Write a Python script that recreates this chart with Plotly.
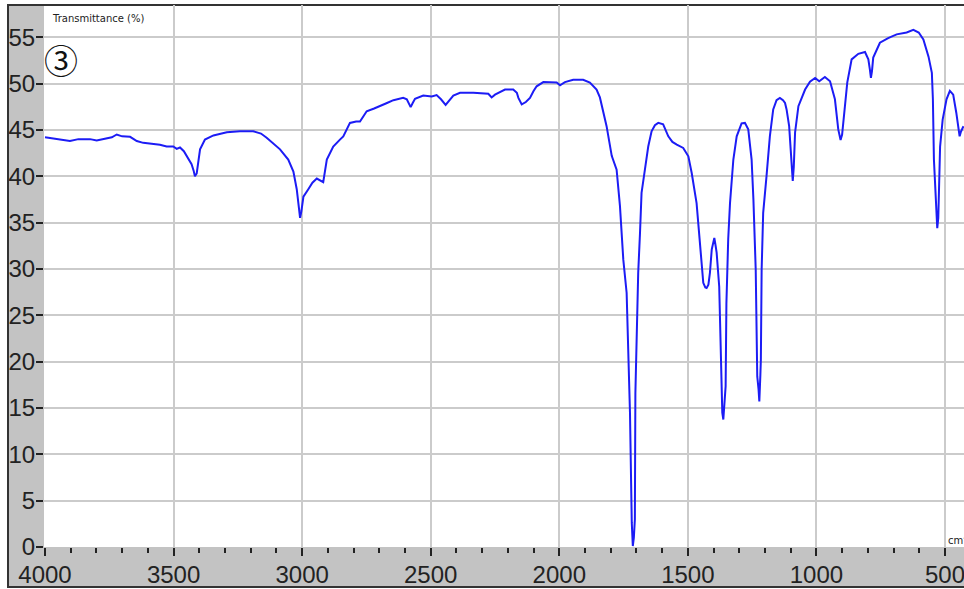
import plotly.graph_objects as go

# IR spectrum data (wavenumber cm-1, transmittance %)
wavenumber = [4000, 3970, 3942, 3915, 3903, 3870, 3825, 3799, 3760, 3740, 3721, 3700, 3669, 3643, 3618,
              3590, 3553, 3527, 3501, 3488, 3475, 3460, 3449, 3430, 3422, 3417, 3410, 3404, 3397, 3378,
              3345, 3293, 3242, 3190, 3160, 3138, 3110, 3086, 3054, 3034, 3021, 3012, 3008, 3003, 2995,
              2976, 2960, 2943, 2930, 2918, 2904, 2879, 2853, 2840, 2814, 2790, 2775, 2749, 2720, 2697,
              2670, 2645, 2607, 2593, 2585, 2578, 2570, 2561, 2529, 2496, 2477, 2460, 2442, 2430, 2412,
              2386, 2334, 2276, 2263, 2250, 2237, 2211, 2179, 2165, 2159, 2146, 2130, 2114, 2100, 2088,
              2062, 2010, 1997, 1978, 1946, 1907, 1881, 1855, 1842, 1816, 1796, 1777, 1764, 1751, 1738,
              1732, 1725, 1718, 1714, 1710, 1706, 1704, 1693, 1686, 1680, 1667, 1654, 1641, 1628, 1615,
              1596, 1576, 1560, 1543, 1518, 1498, 1485, 1466, 1453, 1446, 1440, 1432, 1427, 1420, 1414,
              1407, 1400, 1397, 1392, 1388, 1378, 1372, 1366, 1362, 1358, 1353, 1350, 1343, 1336, 1323,
              1310, 1291, 1278, 1265, 1252, 1245, 1236, 1230, 1225, 1222, 1218, 1216, 1213, 1207, 1194,
              1181, 1168, 1155, 1142, 1130, 1122, 1116, 1106, 1096, 1092, 1088, 1083, 1070, 1044, 1025,
              1005, 989, 967, 947, 928, 915, 906, 900, 895, 880, 863, 837, 811, 798, 792,
              788, 784, 779, 753, 721, 688, 649, 623, 602, 584, 564, 551, 547, 543, 536,
              530, 526, 523, 519, 509, 494, 481, 468, 456, 443, 438, 428]
transmittance = [44.2, 44.1, 44.0, 43.9, 43.8, 44.0, 44.0, 43.85, 44.1, 44.2, 44.5, 44.3, 44.25, 43.8, 43.6,
                 43.5, 43.4, 43.2, 43.2, 42.95, 43.1, 42.7, 42.2, 41.3, 40.6, 40.0, 40.3, 41.45, 42.9, 43.95,
                 44.4, 44.75, 44.85, 44.85, 44.6, 44.15, 43.5, 42.9, 41.8, 40.5, 38.6, 36.5, 35.5, 36.2, 37.8,
                 38.6, 39.3, 39.75, 39.5, 39.35, 41.8, 43.2, 43.95, 44.3, 45.75, 45.9, 45.9, 47.0, 47.3, 47.55,
                 47.9, 48.2, 48.45, 48.3, 47.9, 47.45, 47.9, 48.35, 48.7, 48.6, 48.75, 48.3, 47.7, 48.1, 48.7,
                 49.0, 49.0, 48.9, 48.5, 48.8, 49.0, 49.35, 49.35, 49.0, 48.45, 47.75, 48.0, 48.45, 49.2, 49.7,
                 50.15, 50.1, 49.8, 50.15, 50.4, 50.4, 50.1, 49.35, 48.5, 45.4, 42.2, 40.7, 36.8, 31.0, 27.4,
                 22.0, 14.5, 2.6, 0.1, 1.0, 3.0, 16.6, 29.6, 33.9, 38.2, 40.7, 43.2, 44.85, 45.5, 45.75,
                 45.6, 44.3, 43.7, 43.4, 43.05, 42.15, 40.35, 37.1, 33.2, 30.3, 28.5, 28.0, 27.95, 28.3, 29.6,
                 32.1, 33.3, 33.35, 32.5, 31.75, 28.1, 20.95, 14.5, 13.75, 15.5, 17.35, 26.3, 33.2, 37.1, 41.8,
                 44.3, 45.7, 45.75, 45.05, 41.8, 37.5, 29.9, 18.4, 17.0, 15.7, 18.5, 20.2, 29.9, 36.05, 40.0,
                 44.3, 47.2, 48.2, 48.45, 48.2, 47.9, 47.2, 45.4, 41.8, 39.5, 41.0, 44.7, 47.55, 49.35, 50.2,
                 50.6, 50.25, 50.7, 50.25, 48.3, 45.05, 43.9, 44.5, 46.1, 50.1, 52.6, 53.2, 53.4, 52.6, 51.5,
                 50.6, 51.3, 52.8, 54.4, 54.9, 55.3, 55.5, 55.8, 55.5, 54.75, 52.9, 51.15, 48.3, 41.8, 37.5,
                 34.4, 35.5, 38.2, 43.2, 46.1, 48.3, 49.2, 48.8, 46.85, 44.3, 44.8, 45.4]

x_tickvals = [4000, 3500, 3000, 2500, 2000, 1500, 1000, 500]
y_tickvals = [0, 5, 10, 15, 20, 25, 30, 35, 40, 45, 50, 55]

W, H = 964, 589
ML, MR, MT, MB = 44, 0, 5, 42
PW, PH = W - ML - MR, H - MT - MB

def px_x(p):
    return (p - ML) / PW

def px_y(p):
    return (H - MB - p) / PH

GRAY = "#c3c3c3"
DARK = "#222222"

fig = go.Figure()
fig.add_trace(go.Scatter(x=wavenumber, y=transmittance, mode="lines",
                         line=dict(color="#1c1cf5", width=2), showlegend=False))

fig.update_layout(
    width=W, height=H,
    margin=dict(l=ML, r=MR, t=MT, b=MB, pad=0, autoexpand=False),
    paper_bgcolor="white", plot_bgcolor="white",
    font=dict(family="Liberation Sans, Arial, sans-serif", color=DARK),
    shapes=[
        dict(type="rect", xref="paper", yref="paper", layer="below",
             x0=px_x(8), x1=px_x(980), y0=px_y(587), y1=px_y(5),
             fillcolor=GRAY, line=dict(color="#333333", width=2)),
        dict(type="rect", xref="paper", yref="paper", layer="below",
             x0=0, x1=1.02, y0=0, y1=px_y(6),
             fillcolor="white", line=dict(width=0)),
    ],
    annotations=[
        dict(text="Transmittance (%)", xref="paper", yref="paper", x=px_x(50), y=px_y(18),
             xanchor="left", yanchor="middle", showarrow=False,
             font=dict(family="DejaVu Sans", size=10, color=DARK)),
        dict(text="③", xref="paper", yref="paper", x=px_x(61), y=px_y(60),
             xanchor="center", yanchor="middle", showarrow=False,
             font=dict(family="Noto Sans CJK JP", size=34, color="#111111")),
        dict(text="cm<sup>-1</sup>", xref="paper", yref="paper", x=px_x(946), y=px_y(540),
             xanchor="left", yanchor="middle", showarrow=False,
             font=dict(family="DejaVu Sans", size=10, color=DARK)),
    ],
)

fig.update_xaxes(
    range=[4003.9, 426], tickvals=x_tickvals, ticktext=[str(v) for v in x_tickvals],
    showgrid=True, gridcolor="#cbcbcb", gridwidth=2, zeroline=False, automargin=False,
    ticks="outside", ticklen=8, tickwidth=2, tickcolor=DARK, ticklabelstandoff=-2,
    ticklabeloverflow="allow",
    tickfont=dict(size=24, color=DARK, family="Liberation Sans, Arial, sans-serif"),
    showline=False,
    minor=dict(dtick=100, tick0=0, ticks="outside", ticklen=5, tickwidth=2,
               tickcolor=DARK, showgrid=False),
)
fig.update_yaxes(
    range=[0, 58.47], tickvals=y_tickvals, ticktext=[str(v) for v in y_tickvals],
    showgrid=True, gridcolor="#cbcbcb", gridwidth=2, zeroline=False, automargin=False,
    ticks="outside", ticklen=7, tickwidth=1.5, tickcolor=DARK, ticklabelstandoff=-4,
    tickfont=dict(size=24, color=DARK, family="Liberation Sans, Arial, sans-serif"),
    showline=False,
)

fig.write_html("out.html", config={"displayModeBar": False},
               post_script="document.body.style.margin='0px';document.body.style.overflow='hidden';")
